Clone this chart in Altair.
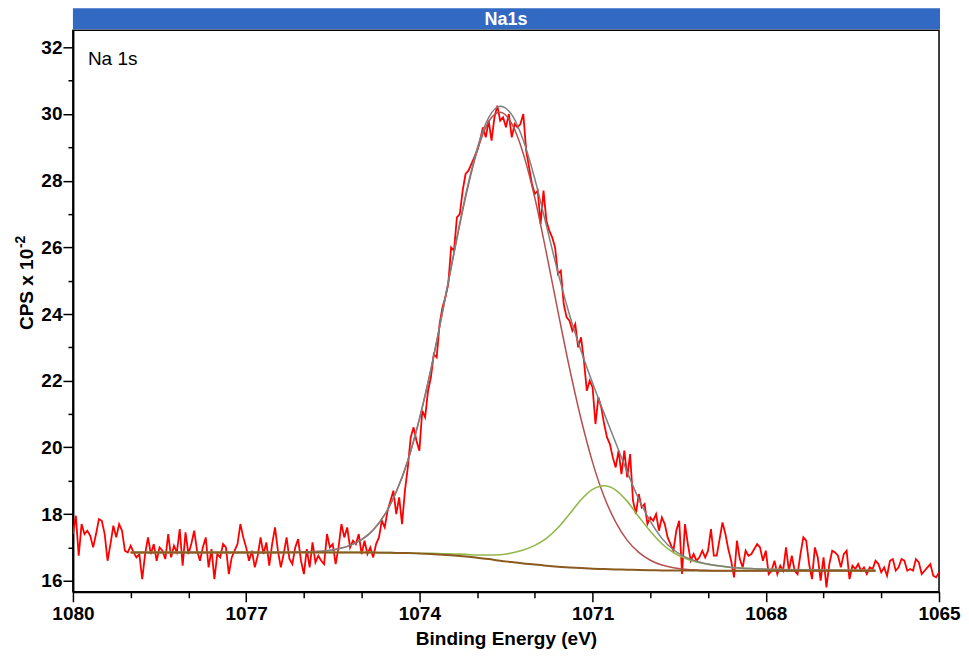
import altair as alt
import numpy as np
import pandas as pd

# ---- measured spectrum (binding energy grid 1080 -> 1065 eV, 0.05 eV step) ----
n_points = 301
energy = np.round(1080.0 - 0.05 * np.arange(n_points), 2)
cps = [
    17.4, 17.95, 16.75, 17.7, 17.4, 17.5, 17.35, 17.0, 17.4, 17.85,
    17.8, 17.4, 16.6, 17.1, 17.65, 17.3, 17.7, 17.5, 16.9, 16.85,
    17.05, 16.85, 16.7, 16.8, 16.05, 16.8, 17.3, 16.8, 17.1, 16.6,
    17.0, 16.9, 16.65, 17.4, 16.7, 17.05, 16.85, 17.55, 16.45, 17.45,
    16.8, 17.1, 17.5, 16.9, 16.6, 17.0, 17.3, 16.4, 16.95, 16.05,
    16.8, 16.7, 17.1, 17.0, 16.2, 16.7, 16.9, 17.1, 17.7, 17.3,
    17.0, 16.6, 16.9, 16.4, 16.75, 17.3, 16.8, 17.15, 16.45, 17.1,
    17.6, 16.9, 16.4, 16.8, 17.3, 16.65, 16.5, 17.0, 17.25, 16.6,
    16.2, 16.95, 16.4, 17.15, 16.55, 16.75, 16.6,
    16.5, 17.4, 17.0, 17.1, 16.5, 17.0, 17.7, 17.3, 17.6, 17.0,
    17.2, 17.1, 17.4, 16.8, 17.2, 16.8, 17.0, 16.7, 17.1, 17.3,
    17.8, 17.6, 18.1, 18.4, 18.7, 18.0, 18.5, 17.7, 18.7, 19.4,
    20.3, 20.6, 20.2, 19.9, 21.1, 20.9, 21.7, 22.1, 22.8, 22.7,
    23.7, 24.2, 24.5, 24.9, 26.0, 25.9, 26.9, 27.0, 27.7, 28.2,
    28.3, 28.5, 28.7, 28.9, 29.2, 29.6, 29.3, 29.8, 29.2, 29.9,
    30.25, 29.8, 29.9, 29.6, 30.0, 29.3, 29.7,
    29.6, 29.7, 30.0, 28.9, 28.4, 27.9, 27.6, 27.7, 26.7, 27.7,
    26.8, 26.5, 26.3, 26.0, 25.2, 25.3, 24.3, 23.9, 23.8, 23.5,
    23.7, 23.0, 23.3, 22.6, 21.7, 22.0, 21.8, 20.7, 21.5, 21.2,
    20.7, 20.3, 20.1, 19.7, 19.4, 19.9, 19.2, 19.9, 19.1, 19.8,
    18.4, 18.0, 18.6, 18.2, 18.3, 17.7, 17.9, 17.8, 18.0, 17.5,
    17.9, 17.7, 17.3, 17.1, 16.9, 17.5, 17.8, 16.2, 17.7, 17.1,
    16.6, 16.8, 16.6, 16.7, 16.9, 16.7, 16.9,
    17.55, 16.75, 16.75, 17.25, 17.75, 17.4, 16.95, 16.6, 16.1, 17.2,
    16.65, 16.4, 16.9, 16.75, 16.8, 16.95, 17.1, 17.0, 16.6, 16.9,
    16.2, 16.3, 16.6, 16.2, 16.45, 16.3, 17.0, 16.3, 16.75, 16.3,
    16.2, 16.8, 17.3, 17.2, 16.5, 16.05, 17.0, 16.7, 16.0, 16.7,
    15.8, 16.5, 16.9, 16.85, 16.75, 16.4, 16.8, 16.9, 16.05, 16.45,
    16.35, 16.5, 16.3, 16.4, 16.2, 16.4, 16.35, 16.6, 16.5, 16.25,
    16.4, 16.15, 16.6, 16.65, 16.3, 16.4, 16.65, 16.6, 16.3, 16.35,
    16.3, 16.65, 16.55, 16.2, 16.3, 16.4, 16.5, 16.15, 16.1, 16.25,
]

# ---- fitted curves ----
fit_x = [1079.0, 1078.0, 1077.0, 1076.4, 1076.0, 1075.6, 1075.4, 1075.2, 1075.0, 1074.8,
         1074.6, 1074.4, 1074.2, 1074.0, 1073.8, 1073.6, 1073.4, 1073.2, 1073.0, 1072.8,
         1072.6, 1072.4, 1072.2, 1072.0, 1071.8, 1071.6, 1071.4, 1071.2, 1071.0, 1070.8,
         1070.6, 1070.4, 1070.2, 1070.0, 1069.8, 1069.6, 1069.4, 1069.2, 1069.0, 1068.6,
         1068.2, 1067.8, 1067.0, 1066.1]
background = [16.85, 16.85, 16.85, 16.85, 16.85, 16.85, 16.85, 16.848, 16.845, 16.843,
              16.84, 16.835, 16.83, 16.815, 16.80, 16.78, 16.76, 16.73, 16.69, 16.65,
              16.60, 16.56, 16.52, 16.49, 16.45, 16.42, 16.40, 16.38, 16.36, 16.35,
              16.34, 16.33, 16.32, 16.315, 16.31, 16.307, 16.305, 16.303, 16.30, 16.30,
              16.30, 16.30, 16.30, 16.30]
peak_main = [16.85, 16.85, 16.85, 16.85, 16.86, 16.90, 16.96, 17.06, 17.23, 17.52,
             17.98, 18.67, 19.60, 20.84, 22.33, 24.04, 25.82, 27.50, 28.88, 29.77,
             30.05, 29.71, 28.81, 27.48, 25.83, 24.08, 22.38, 20.85, 19.55, 18.52,
             17.76, 17.21, 16.85, 16.615, 16.47, 16.39, 16.345, 16.32, 16.31, 16.30,
             16.30, 16.30, 16.30, 16.30]
peak_low = [16.85, 16.85, 16.85, 16.85, 16.85, 16.85, 16.85, 16.85, 16.85, 16.85,
            16.845, 16.84, 16.835, 16.825, 16.82, 16.81, 16.80, 16.79, 16.77, 16.77,
            16.78, 16.83, 16.92, 17.06, 17.27, 17.59, 18.00, 18.43, 18.74, 18.85,
            18.72, 18.38, 17.92, 17.485, 17.11, 16.847, 16.675, 16.563, 16.49, 16.40,
            16.36, 16.34, 16.32, 16.31]
envelope = [16.85, 16.85, 16.85, 16.85, 16.86, 16.90, 16.96, 17.06, 17.23, 17.52,
            17.98, 18.67, 19.60, 20.85, 22.35, 24.07, 25.86, 27.56, 28.96, 29.89,
            30.23, 29.98, 29.21, 28.05, 26.65, 25.25, 23.98, 22.90, 21.93, 21.02,
            20.14, 19.26, 18.45, 17.785, 17.27, 16.93, 16.715, 16.583, 16.50, 16.40,
            16.36, 16.34, 16.32, 16.31]

x_major = [1080, 1077, 1074, 1071, 1068, 1065]
x_minor = [1079, 1078, 1076, 1075, 1073, 1072, 1070, 1069, 1067, 1066]
y_major = [16, 18, 20, 22, 24, 26, 28, 30, 32]
y_minor = [17, 19, 21, 23, 25, 27, 29, 31]

FONT = "Liberation Sans"
W, H = 867, 562

df_data = pd.DataFrame({"x": energy, "y": cps})
df_fit = pd.DataFrame({"x": fit_x, "bg": background, "main": peak_main,
                       "low": peak_low, "env": envelope})
df_one = pd.DataFrame({"t": [0]})

xs = alt.Scale(domain=[1065, 1080], reverse=True, nice=False, zero=False)
ys = alt.Scale(domain=[15.67, 32.51], nice=False, zero=False)

x_axis_major = alt.Axis(values=x_major, format="d", title="Binding Energy (eV)",
                        labelFont=FONT, labelFontSize=19, labelFontWeight="bold",
                        labelColor="black", labelPadding=3, labelFlush=False,
                        tickSize=10, tickWidth=1.5, tickColor="black",
                        domainColor="black", domainWidth=2, grid=False,
                        titleFont=FONT, titleFontSize=19, titleFontWeight="bold",
                        titleColor="black", titlePadding=6, orient="bottom")
y_axis_major = alt.Axis(values=y_major, format="d", title="",
                        labelFont=FONT, labelFontSize=19, labelFontWeight="bold",
                        labelColor="black", labelPadding=1, labelFlush=False,
                        tickSize=10, tickWidth=1.5, tickColor="black",
                        domainColor="black", domainWidth=2, grid=False,
                        orient="left")
x_axis_minor = alt.Axis(values=x_minor, labels=False, domain=False, grid=False,
                        tickSize=6, tickWidth=1.5, tickColor="black", title="",
                        orient="bottom")
y_axis_minor = alt.Axis(values=y_minor, labels=False, domain=False, grid=False,
                        tickSize=5, tickWidth=1.5, tickColor="black", title="",
                        orient="left")

data_line = alt.Chart(df_data).mark_line(color="#FF0000", strokeWidth=1.8, clip=True).encode(
    x=alt.X("x:Q", scale=xs, axis=x_axis_major),
    y=alt.Y("y:Q", scale=ys, axis=y_axis_major),
)


def fit_line(col, color, width, axes=False):
    return alt.Chart(df_fit).mark_line(color=color, strokeWidth=width,
                                       interpolate="monotone", clip=True).encode(
        x=alt.X("x:Q", scale=xs, axis=x_axis_minor if axes else None),
        y=alt.Y(f"{col}:Q", scale=ys, axis=y_axis_minor if axes else None),
    )


main_line = fit_line("main", "#B5504E", 1.5)
low_line = fit_line("low", "#92B84C", 1.6)
env_line = fit_line("env", "#808080", 1.5)
bg_line = fit_line("bg", "#8B5A1E", 2.0, axes=True)

bar = alt.Chart(df_one).mark_rect(color="#3169C3").encode(
    x=alt.value(0), x2=alt.value(W + 1), y=alt.value(-22), y2=alt.value(-1)
)
bar_text = alt.Chart(df_one).mark_text(text="Na1s", font=FONT, fontSize=18,
                                       fontWeight="bold", color="white",
                                       align="center", baseline="alphabetic").encode(
    x=alt.value(W / 2), y=alt.value(-5)
)
label = alt.Chart(df_one).mark_text(text="Na 1s", font=FONT, fontSize=19,
                                    color="black", align="left",
                                    baseline="alphabetic").encode(
    x=alt.value(15), y=alt.value(35)
)
# y axis title "CPS x 10^-2" (rotated, with superscript)
ytitle_main = alt.Chart(df_one).mark_text(text="CPS x 10", font=FONT, fontSize=19,
                                          fontWeight="bold", color="black", angle=270,
                                          align="left", baseline="alphabetic").encode(
    x=alt.value(-40), y=alt.value(300)
)
ytitle_sup = alt.Chart(df_one).mark_text(text="-2", font=FONT, fontSize=14,
                                         fontWeight="bold", color="black", angle=270,
                                         align="left", baseline="alphabetic").encode(
    x=alt.value(-48), y=alt.value(218)
)

chart = alt.layer(
    data_line, main_line, low_line, env_line, bg_line, bar, bar_text, label,
    ytitle_main, ytitle_sup
).resolve_axis(x="independent", y="independent").properties(
    width=W, height=H,
    autosize=alt.AutoSizeParams(type="none"),
    padding={"left": 65, "top": 22, "right": 22, "bottom": 62},
    background="white",
).configure_view(stroke="black", strokeWidth=1.5)

chart.save("out.html", embed_options={"renderer": "svg", "actions": False})
